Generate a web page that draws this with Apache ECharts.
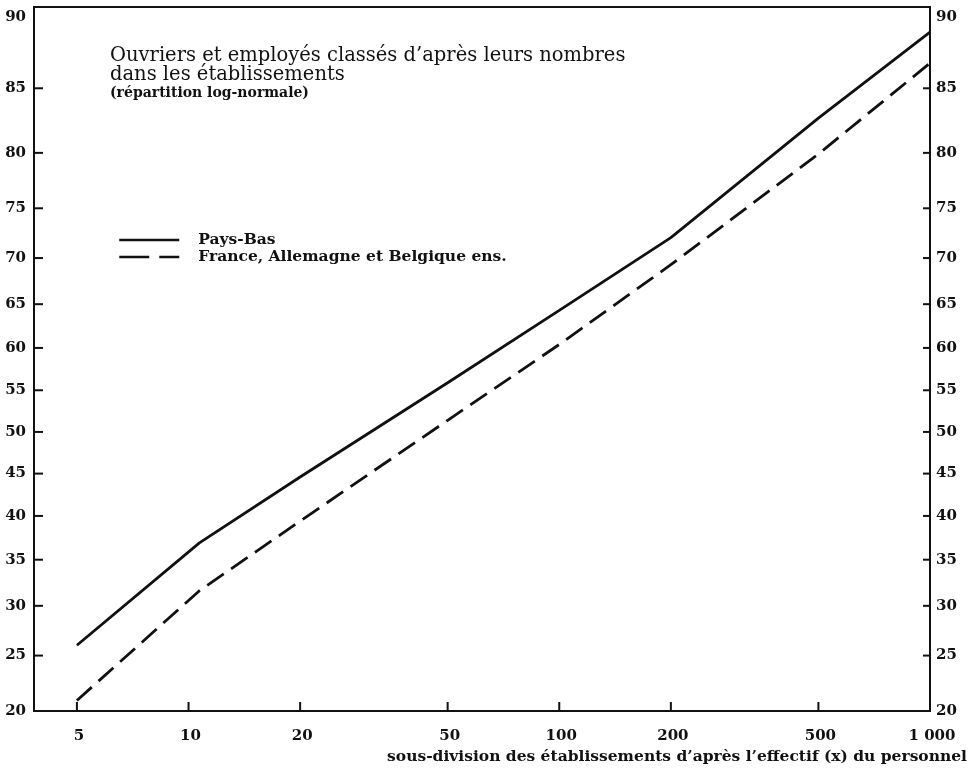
<!DOCTYPE html>
<html>
<head>
<meta charset="utf-8">
<script src="https://cdn.jsdelivr.net/npm/echarts@6/dist/echarts.min.js"></script>
<style>html,body{margin:0;padding:0;background:#fff;}#chart{width:973px;height:769px;}</style>
</head>
<body>
<div id="chart"></div>
<script>
// ---- data ----
const xTicks = [5, 10, 20, 50, 100, 200, 500, 1000];
const xTickLabels = ['5', '10', '20', '50', '100', '200', '500', '1 000'];
const yTicks = [20, 25, 30, 35, 40, 45, 50, 55, 60, 65, 70, 75, 80, 85, 90];
const yTickLabels = ['20', '25', '30', '35', '40', '45', '50', '55', '60', '65', '70', '75', '80', '85', '90'];

const seriesNames = ['Pays-Bas', 'France, Allemagne et Belgique ens.'];
const xPaysBas = [5, 10.7, 20, 50, 100, 200, 500, 1000];
const pPaysBas = [26.0, 36.9, 44.6, 55.9, 64.3, 72.1, 82.8, 88.6];
const xFAB = [5, 10.7, 20, 50, 100, 200, 500, 1000];
const pFAB = [20.9, 31.6, 39.4, 51.4, 60.4, 69.3, 79.9, 86.7];

const titleText = 'Ouvriers et employés classés d\u2019après leurs nombres\ndans les établissements';
const subText = '(répartition log-normale)';
const xName = 'sous-division des établissements d\u2019après l\u2019effectif (x) du personnel';

// inverse normal CDF (probability paper scale)
function probit(p) {
  const a=[-3.969683028665376e+01,2.209460984245205e+02,-2.759285104469687e+02,1.383577518672690e+02,-3.066479806614716e+01,2.506628277459239e+00];
  const b=[-5.447609879822406e+01,1.615858368580409e+02,-1.556989798598866e+02,6.680131188771972e+01,-1.328068155288572e+01];
  const c=[-7.784894002430293e-03,-3.223964580411365e-01,-2.400758277161838e+00,-2.549732539343734e+00,4.374664141464968e+00,2.938163982698783e+00];
  const d=[7.784695709041462e-03,3.224671290700398e-01,2.445134137142996e+00,3.754408661907416e+00];
  const pl=0.02425, ph=1-pl; let q, r;
  if (p < pl) { q=Math.sqrt(-2*Math.log(p)); return (((((c[0]*q+c[1])*q+c[2])*q+c[3])*q+c[4])*q+c[5])/((((d[0]*q+d[1])*q+d[2])*q+d[3])*q+1); }
  if (p > ph) { q=Math.sqrt(-2*Math.log(1-p)); return -(((((c[0]*q+c[1])*q+c[2])*q+c[3])*q+c[4])*q+c[5])/((((d[0]*q+d[1])*q+d[2])*q+d[3])*q+1); }
  q=p-0.5; r=q*q;
  return (((((a[0]*r+a[1])*r+a[2])*r+a[3])*r+a[4])*r+a[5])*q/(((((b[0]*r+b[1])*r+b[2])*r+b[3])*r+b[4])*r+1);
}

const X_MIN = 3.83, X_MAX = 1000;
const Y_MIN = probit(0.20), Y_MAX = probit(0.90);
const INK = '#111';
const FONT = '"DejaVu Serif", "Liberation Serif", serif';
const tickFont = 'bold 15px ' + FONT;

function toPts(xs, ps) { return xs.map((x, i) => [x, probit(ps[i] / 100)]); }

function renderYTick(params, api) {
  const pt = api.coord([X_MIN, api.value(1)]);
  const cs = params.coordSys;
  const xl = cs.x, xr = cs.x + cs.width, y = pt[1];
  const lab = yTickLabels[params.dataIndex];
  const atTop = y <= cs.y + 1;
  const ty = atTop ? y + 10 : y;
  return { type: 'group', children: [
    { type: 'line', shape: { x1: xl, y1: y, x2: xl + 9, y2: y }, style: { stroke: INK, lineWidth: 2 } },
    { type: 'line', shape: { x1: xr - 7, y1: y, x2: xr, y2: y }, style: { stroke: INK, lineWidth: 2 } },
    { type: 'text', x: xl - 8, y: ty, style: { text: lab, font: tickFont, fill: INK, align: 'right', verticalAlign: 'middle', textAlign: 'right', textVerticalAlign: 'middle' } },
    { type: 'text', x: xr + 6, y: ty, style: { text: lab, font: tickFont, fill: INK, align: 'left', verticalAlign: 'middle', textAlign: 'left', textVerticalAlign: 'middle' } }
  ]};
}
function renderXTick(params, api) {
  const pt = api.coord([api.value(0), Y_MIN]);
  const x = pt[0], yb = pt[1];
  const lab = xTickLabels[params.dataIndex];
  return { type: 'group', children: [
    { type: 'line', shape: { x1: x, y1: yb, x2: x, y2: yb - 9 }, style: { stroke: INK, lineWidth: 2 } },
    { type: 'text', x: x + 2, y: yb + 25, style: { text: lab, font: tickFont, fill: INK, align: 'center', verticalAlign: 'middle', textAlign: 'center', textVerticalAlign: 'middle' } }
  ]};
}

const chart = echarts.init(document.getElementById('chart'), null, { renderer: 'canvas' });
chart.setOption({
  backgroundColor: '#fff',
  animation: false,
  title: {
    text: titleText, subtext: subText, left: 110, top: 46, itemGap: 1, padding: 0,
    textStyle: { fontFamily: FONT, fontSize: 19.5, fontWeight: 'normal', color: INK, lineHeight: 19 },
    subtextStyle: { fontFamily: FONT, fontSize: 14, fontWeight: 'bold', color: INK, lineHeight: 15 }
  },
  legend: {
    orient: 'vertical', left: 118, top: 232, itemWidth: 60, itemHeight: 14, itemGap: 1, padding: 0,
    textStyle: { fontFamily: FONT, fontSize: 15.5, fontWeight: 'bold', color: INK, lineHeight: 14, padding: [0, 0, 0, 14] },
    data: [
      { name: seriesNames[0], itemStyle: { opacity: 0 }, lineStyle: { color: INK, width: 2.5, type: 'solid' } },
      { name: seriesNames[1], itemStyle: { opacity: 0 }, lineStyle: { color: INK, width: 2.5, type: [30, 10] } }
    ]
  },
  grid: { left: 34, right: 43, top: 7, bottom: 58, show: true, borderColor: INK, borderWidth: 2, backgroundColor: '#fff' },
  xAxis: {
    type: 'log', logBase: 10, min: X_MIN, max: X_MAX,
    axisLine: { show: false, onZero: false }, axisTick: { show: false }, axisLabel: { show: false }, splitLine: { show: false },
    name: xName, nameLocation: 'end', nameGap: 37,
    nameTextStyle: { fontFamily: FONT, fontSize: 15.5, fontWeight: 'bold', color: INK, align: 'right', verticalAlign: 'top', padding: [38, 0, 0, 0] }
  },
  yAxis: {
    type: 'value', min: Y_MIN, max: Y_MAX,
    axisLine: { show: false, onZero: false }, axisTick: { show: false }, axisLabel: { show: false }, splitLine: { show: false }
  },
  series: [
    { name: seriesNames[0], type: 'line', data: toPts(xPaysBas, pPaysBas), symbol: 'none',
      lineStyle: { color: INK, width: 2.8, type: 'solid' }, itemStyle: { color: INK }, z: 3 },
    { name: seriesNames[1], type: 'line', data: toPts(xFAB, pFAB), symbol: 'none',
      lineStyle: { color: INK, width: 2.8, type: [20, 9] }, itemStyle: { color: INK }, z: 3 },
    { name: 'yticks', type: 'custom', renderItem: renderYTick, data: yTicks.map(v => [X_MIN, probit(v / 100)]), silent: true, z: 4, clip: false },
    { name: 'xticks', type: 'custom', renderItem: renderXTick, data: xTicks.map(v => [v, Y_MIN]), silent: true, z: 4, clip: false }
  ]
});
</script>
</body>
</html>
